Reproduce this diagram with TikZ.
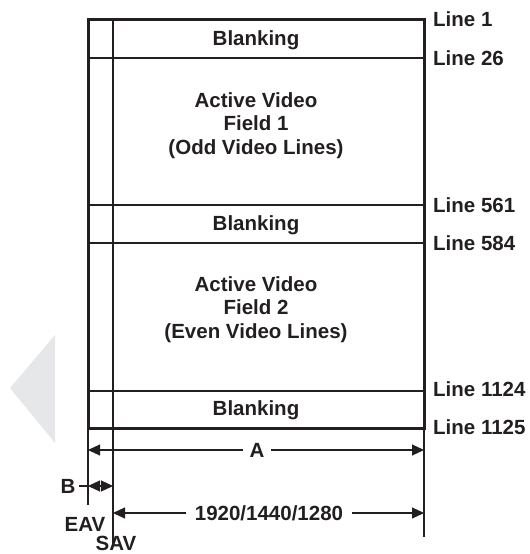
\documentclass[tikz,border=0pt]{standalone}
\usepackage{fontspec}
\setmainfont{Liberation Sans}[BoldFont={Liberation Sans Bold}]
\usetikzlibrary{arrows.meta}
\definecolor{ink}{HTML}{231F20}
\definecolor{tri}{HTML}{E6E7E8}
\begin{document}
\begin{tikzpicture}[x=1bp,y=-1bp,
  font=\fontsize{20.5bp}{23.5bp}\selectfont\bfseries,
  every node/.style={text=ink},
  thinline/.style={draw=ink,line width=1.1bp},
  thickline/.style={draw=ink,line width=3bp},
  dimline/.style={draw=ink,line width=1.1bp},
  tip/.style={-{Triangle[length=12bp,width=11bp]}},
  linelab/.style={anchor=west,inner sep=0pt},
  gaplab/.style={fill=white,inner ysep=2pt}]
\useasboundingbox (0,0) rectangle (530,554);
% grey decorative triangle
\fill[tri] (10,388) -- (55,335) -- (55,443) -- cycle;
% coordinates
\coordinate (TL) at (88,20);
\coordinate (TR) at (424,20);
\coordinate (BL) at (88,428);
\coordinate (BR) at (424,428);
\coordinate (vT) at (113,20);
\coordinate (vB) at (113,547);
\coordinate (h1L) at (88,58);   \coordinate (h1R) at (424,58);
\coordinate (h2L) at (88,205);  \coordinate (h2R) at (424,205);
\coordinate (h3L) at (88,243);  \coordinate (h3R) at (424,243);
\coordinate (h4L) at (88,391);  \coordinate (h4R) at (424,391);
\coordinate (eL) at (88,505);
\coordinate (eR) at (424,537);
% inner lines
\draw[thinline] (vT) -- (vB);
\draw[thinline] (h1L) -- (h1R);
\draw[thinline] (h2L) -- (h2R);
\draw[thinline] (h3L) -- (h3R);
\draw[thinline] (h4L) -- (h4R);
% extension lines
\draw[thinline] (BL) -- (eL);
\draw[thinline] (BR) -- (eR);
% outer box
\draw[thickline] (TL) rectangle (BR);
% texts in the frame
\node (blank1) at (256,40) {Blanking};
\node[align=center] (av1) at (256,125.5) {Active Video\\Field 1\\(Odd Video Lines)};
\node (blank2) at (256,225) {Blanking};
\node[align=center] (av2) at (256,309.5) {Active Video\\Field 2\\(Even Video Lines)};
\node (blank3) at (256,410) {Blanking};
% line labels
\node[linelab] (l1) at (433,19) {Line 1};
\node[linelab] (l26) at (433,58) {Line 26};
\node[linelab] (l561) at (433,205) {Line 561};
\node[linelab] (l584) at (433,243) {Line 584};
\node[linelab] (l1124) at (433,389) {Line 1124};
\node[linelab] (l1125) at (433,427) {Line 1125};
% dimension A
\coordinate (aL) at (88,450);
\coordinate (aR) at (424,450);
\node[gaplab,inner xsep=6.5bp] (alab) at (257,450) {A};
\draw[dimline,tip] (alab) -- (aL);
\draw[dimline,tip] (alab) -- (aR);
% dimension 1920/1440/1280
\coordinate (wL) at (113,513);
\coordinate (wR) at (424,513);
\node[gaplab,inner xsep=8.5bp] (wlab) at (269,513) {1920/1440/1280};
\draw[dimline,tip] (wlab) -- (wL);
\draw[dimline,tip] (wlab) -- (wR);
% dimension B
\coordinate (bL) at (88,486);
\coordinate (bR) at (113,486);
\node[inner sep=0pt] (blab) at (68,486) {B};
\draw[dimline] (blab.east) ++(3bp,0) coordinate (bS) (bS) -- (bL);
\draw[dimline,{Triangle[length=12bp,width=11bp]}-{Triangle[length=12bp,width=11bp]}] (bL) -- (bR);
% EAV / SAV
\node (eav) at (85,524) {EAV};
\node[inner sep=0pt] (sav) at (116,543) {SAV};
\end{tikzpicture}
\end{document}
